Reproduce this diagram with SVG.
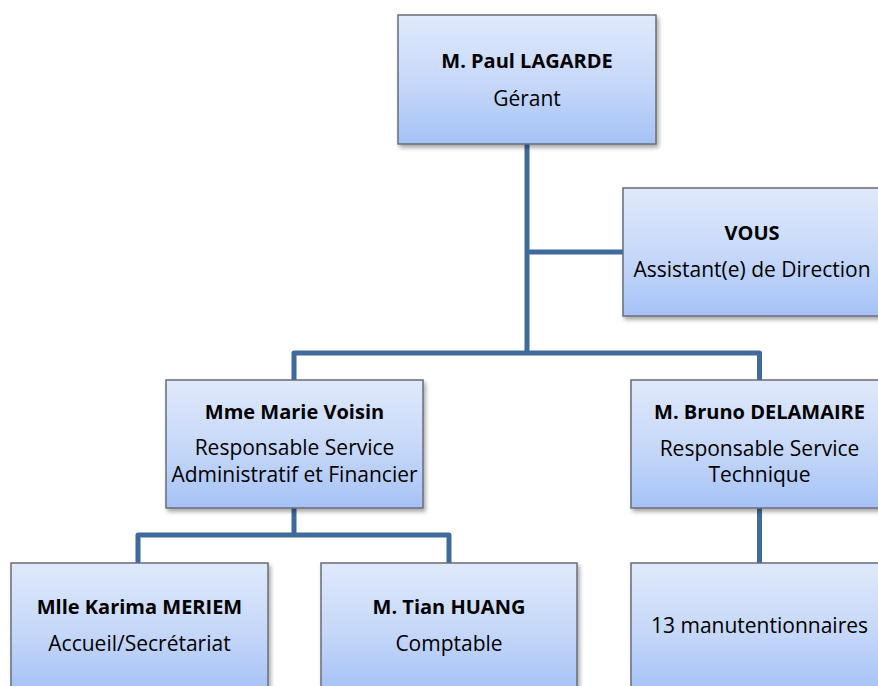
<svg xmlns="http://www.w3.org/2000/svg" width="878" height="686" viewBox="0 0 878 686">
<defs>
<linearGradient id="boxfill" x1="0" y1="0" x2="0" y2="1">
<stop offset="0" stop-color="#e0e9fb"/>
<stop offset="0.55" stop-color="#c5d7f9"/>
<stop offset="1" stop-color="#a5c2f6"/>
</linearGradient>
<filter id="shadow" x="-10%" y="-10%" width="125%" height="130%">
<feDropShadow dx="2" dy="3" stdDeviation="2" flood-color="#000" flood-opacity="0.35"/>
</filter>
<style>
.box{fill:url(#boxfill);stroke:#676d78;stroke-width:1.5;filter:url(#shadow)}
.conn{fill:none;stroke:#3f6a9c;stroke-width:5;stroke-linejoin:round}
text{font-family:"Open Sans","Liberation Sans",sans-serif;fill:#000;text-anchor:middle}
.name{font-size:20px;font-weight:bold}
.role{font-size:21px}
</style>
</defs>
<rect width="878" height="686" fill="#fff"/>
<g id="connectors">
<path class="conn" d="M527,144 V353"/>
<path class="conn" d="M527,252 H623"/>
<path class="conn" d="M294,380 V353 H759.5 V380"/>
<path class="conn" d="M294,508 V535"/>
<path class="conn" d="M138,563 V535 H449 V563"/>
<path class="conn" d="M759.5,508 V563"/>
</g>
<g id="lagarde">
<rect class="box" x="398" y="15" width="258" height="129"/>
<text class="name" x="527" y="68">M. Paul LAGARDE</text>
<text class="role" x="527" y="106">Gérant</text>
</g>
<g id="vous">
<rect class="box" x="623" y="188" width="258" height="128"/>
<text class="name" x="752" y="240">VOUS</text>
<text class="role" x="752" y="277">Assistant(e) de Direction</text>
</g>
<g id="voisin">
<rect class="box" x="166" y="380" width="257" height="128"/>
<text class="name" x="294.5" y="419">Mme Marie Voisin</text>
<text class="role" x="294.5" y="455">Responsable Service</text>
<text class="role" x="294.5" y="482">Administratif et Financier</text>
</g>
<g id="delamaire">
<rect class="box" x="631" y="380" width="257" height="128"/>
<text class="name" x="759.5" y="419">M. Bruno DELAMAIRE</text>
<text class="role" x="759.5" y="456">Responsable Service</text>
<text class="role" x="759.5" y="482">Technique</text>
</g>
<g id="meriem">
<rect class="box" x="11" y="563" width="257" height="128"/>
<text class="name" x="139.5" y="614">Mlle Karima MERIEM</text>
<text class="role" x="139.5" y="651">Accueil/Secrétariat</text>
</g>
<g id="huang">
<rect class="box" x="321" y="563" width="256" height="128"/>
<text class="name" x="449" y="614">M. Tian HUANG</text>
<text class="role" x="449" y="651">Comptable</text>
</g>
<g id="manutentionnaires">
<rect class="box" x="631" y="563" width="257" height="128"/>
<text class="role" x="759.5" y="633">13 manutentionnaires</text>
</g>
</svg>
